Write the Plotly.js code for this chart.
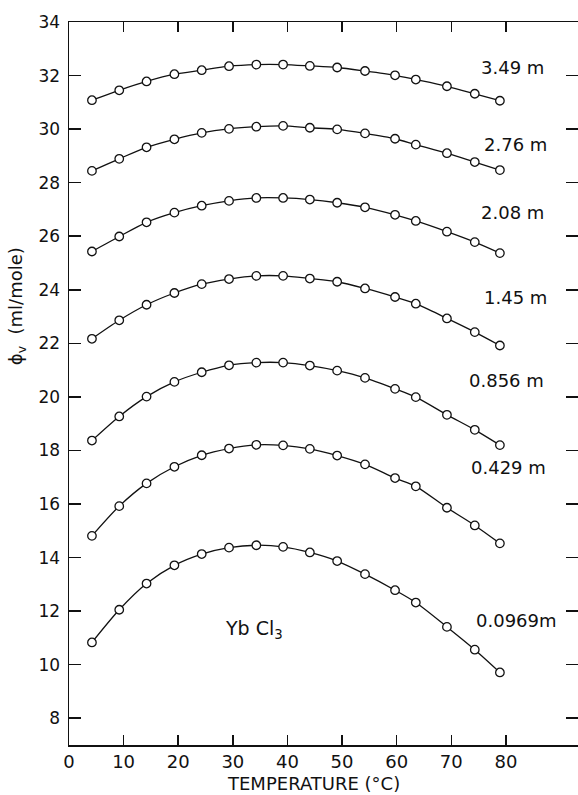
<!DOCTYPE html>
<html>
<head>
<meta charset="utf-8">
<script src="https://cdn.plot.ly/plotly-3.0.1.min.js"></script>
<style>
  html, body { margin: 0; padding: 0; background: #fff; }
  #chart { width: 578px; height: 795px; }
</style>
</head>
<body>
<div id="chart"></div>
<script>
// Temperatures (°C) at which the apparent molal volumes were measured
const temperature = [4.2, 9.2, 14.2, 19.3, 24.3, 29.3, 34.3, 39.2, 44.1, 49.1, 54.2, 59.7, 63.5, 69.2, 74.3, 78.9];

// Apparent molal volume phi_v (ml/mole) for each YbCl3 molality
const phi_349  = [31.08, 31.45, 31.78, 32.05, 32.20, 32.35, 32.41, 32.41, 32.36, 32.30, 32.17, 32.01, 31.85, 31.60, 31.32, 31.06];
const phi_276  = [28.44, 28.89, 29.32, 29.62, 29.86, 30.01, 30.09, 30.12, 30.05, 29.99, 29.84, 29.64, 29.42, 29.10, 28.77, 28.47];
const phi_208  = [25.43, 25.99, 26.52, 26.88, 27.14, 27.32, 27.43, 27.43, 27.37, 27.25, 27.08, 26.80, 26.57, 26.17, 25.78, 25.37];
const phi_145  = [22.17, 22.86, 23.44, 23.88, 24.21, 24.40, 24.52, 24.52, 24.42, 24.30, 24.05, 23.73, 23.48, 22.93, 22.42, 21.92];
const phi_0856 = [18.37, 19.27, 20.01, 20.56, 20.92, 21.18, 21.28, 21.28, 21.17, 20.98, 20.71, 20.30, 19.99, 19.33, 18.77, 18.20];
const phi_0429 = [14.81, 15.92, 16.77, 17.39, 17.82, 18.07, 18.21, 18.19, 18.06, 17.81, 17.48, 16.97, 16.66, 15.86, 15.20, 14.53];
const phi_0969 = [10.83, 12.05, 13.03, 13.71, 14.13, 14.37, 14.46, 14.40, 14.19, 13.87, 13.38, 12.78, 12.32, 11.41, 10.56, 9.71];

const series = [phi_349, phi_276, phi_208, phi_145, phi_0856, phi_0429, phi_0969];

// Molality labels and where they sit (data units)
const molality = ["3.49 m", "2.76 m", "2.08 m", "1.45 m", "0.856 m", "0.429 m", "0.0969m"];
const labelX   = [75.0, 75.6, 75.0, 75.6, 72.8, 73.2, 74.2];
const labelY   = [32.31, 29.44, 26.87, 23.70, 20.61, 17.37, 11.66];

const xTicks = [0, 10, 20, 30, 40, 50, 60, 70, 80];
const yTicks = [8, 10, 12, 14, 16, 18, 20, 22, 24, 26, 28, 30, 32, 34];

const FONT = "DejaVu Sans, sans-serif";

const traces = series.map((vals, i) => ({
  type: "scatter",
  mode: "lines+markers",
  x: temperature,
  y: vals,
  name: molality[i],
  line: { color: "#111", width: 1.3, shape: "spline", smoothing: 0.8 },
  marker: { symbol: "circle", size: 8.5, color: "#fff", line: { color: "#111", width: 1.3 } },
  showlegend: false,
  hoverinfo: "x+y"
}));

const annotations = molality.map((t, i) => ({
  x: labelX[i], y: labelY[i], xref: "x", yref: "y",
  text: t, showarrow: false, xanchor: "left", yanchor: "middle",
  font: { family: FONT, size: 18, color: "#111" }
}));

annotations.push({
  x: 33.9, y: 11.3, xref: "x", yref: "y",
  text: "Yb Cl<sub>3</sub>", showarrow: false, xanchor: "center", yanchor: "middle",
  font: { family: FONT, size: 19, color: "#111" }
});

// axis titles placed as annotations
annotations.push({
  x: 44.7, y: 0, xref: "x", yref: "paper", yshift: -38,
  text: "TEMPERATURE (°C)", showarrow: false, xanchor: "center", yanchor: "middle",
  font: { family: FONT, size: 18, color: "#111" }
});
annotations.push({
  x: -0.102, y: 0.607, xref: "paper", yref: "paper",
  text: "ϕ<sub>v</sub>  (ml/mole)", showarrow: false, textangle: -90,
  xanchor: "center", yanchor: "middle",
  font: { family: FONT, size: 18, color: "#111" }
});

const axisCommon = {
  showgrid: false, zeroline: false,
  showline: true, linecolor: "#111", linewidth: 1.5,
  ticks: "inside", tickcolor: "#111", tickwidth: 1.5,
  mirror: "ticks",
  tickfont: { family: FONT, size: 17, color: "#111" }
};

const layout = {
  width: 578, height: 795,
  margin: { l: 69, r: 0, t: 22, b: 50 },
  paper_bgcolor: "#fff", plot_bgcolor: "#fff",
  xaxis: Object.assign({}, axisCommon, {
    range: [0, 93.2], tickmode: "array", tickvals: xTicks, ticklen: 10,
    tickfont: { family: FONT, size: 18, color: "#111" }
  }),
  yaxis: Object.assign({}, axisCommon, {
    range: [7, 34], tickmode: "array", tickvals: yTicks, ticklen: 12,
    ticklabelstandoff: 4
  }),
  annotations: annotations
};

Plotly.newPlot("chart", traces, layout, { displayModeBar: false, staticPlot: true });
</script>
</body>
</html>
